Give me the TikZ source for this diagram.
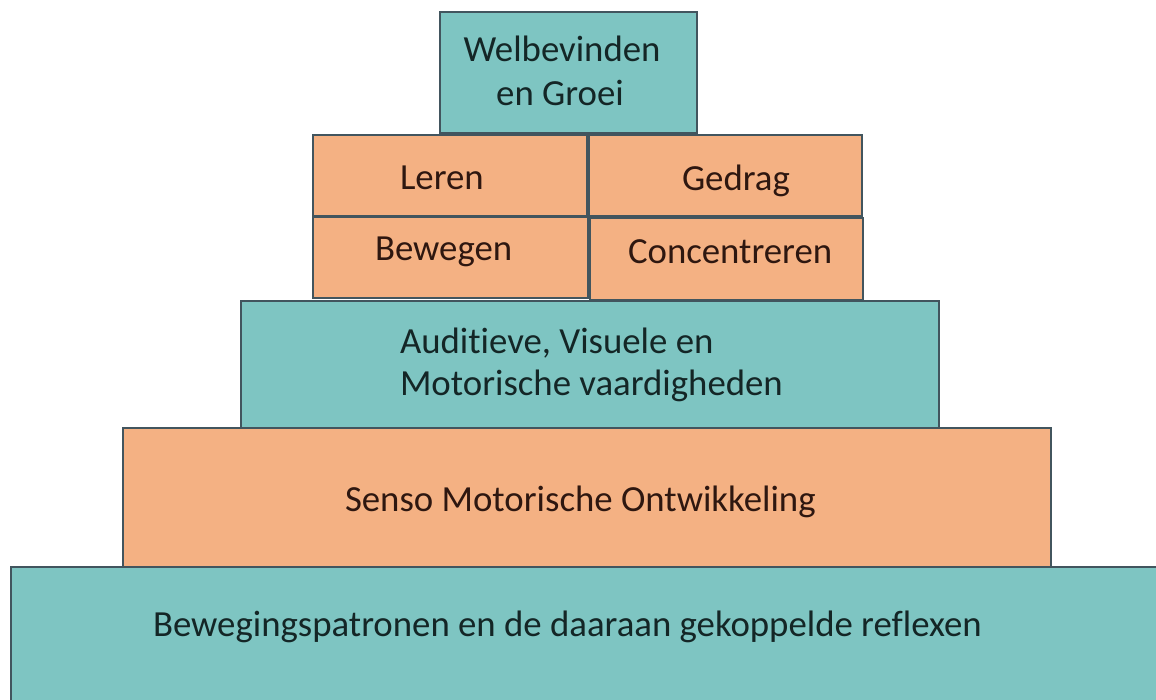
\documentclass[tikz,border=0pt]{standalone}
\usepackage{fontspec}
\setmainfont{Carlito}[Ligatures={NoCommon}]
\definecolor{tealfill}{HTML}{7EC5C2}
\definecolor{orangefill}{HTML}{F4B183}
\definecolor{edgecol}{HTML}{42555E}
\definecolor{tealtext}{HTML}{142626}
\definecolor{orangetext}{HTML}{2E1710}
\begin{document}
\begin{tikzpicture}[x=1pt,y=-1pt,
  blk/.style={draw=edgecol,line width=1.4pt,inner sep=0pt,outer sep=0pt},
  tealblk/.style={blk,fill=tealfill},
  orangeblk/.style={blk,fill=orangefill},
  lbl/.style={inner sep=0pt,outer sep=0pt,font=\fontsize{36.8}{44}\selectfont},
  tlbl/.style={lbl,text=tealtext},
  olbl/.style={lbl,text=orangetext}]
\useasboundingbox (0,0) rectangle (1156,700);
% blocks, bottom to top
\node[tealblk,minimum width=1159pt,minimum height=153pt] (base) at (590.5,643.5) {};
\node[orangeblk,minimum width=928pt,minimum height=139pt] (senso) at (587,497.5) {};
\node[tealblk,minimum width=698pt,minimum height=127pt] (aud) at (590,364.5) {};
\node[orangeblk,minimum width=274pt,minimum height=81pt] (leren) at (450,175.5) {};
\node[orangeblk,minimum width=273pt,minimum height=81pt] (gedrag) at (725.5,175.5) {};
\node[orangeblk,minimum width=275pt,minimum height=81pt] (bewegen) at (450.5,257.5) {};
\node[orangeblk,minimum width=273pt,minimum height=82pt] (conc) at (726.5,259) {};
\node[tealblk,minimum width=257pt,minimum height=121pt] (top) at (568.5,72.5) {};
% labels
\node[tlbl,anchor=base] (welb1) at (562,62) {Welbevinden};
\node[tlbl,anchor=base] (welb2) at (560,106) {en Groei};
\node[olbl,anchor=base west] (lerenT) at (400,190) {Leren};
\node[olbl,anchor=base west] (gedragT) at (682,191) {Gedrag};
\node[olbl,anchor=base west] (bewegenT) at (375,261) {Bewegen};
\node[olbl,anchor=base west] (concT) at (628,264) {Concentreren};
\node[tlbl,anchor=base west] (aud1) at (400,353) {Auditieve, Visuele en};
\node[tlbl,anchor=base west] (aud2) at (400,395) {Motorische vaardigheden};
\node[olbl,anchor=base west] (sensoT) at (345,511) {Senso Motorische Ontwikkeling};
\node[tlbl,anchor=base west] (baseT) at (153,636) {Bewegingspatronen en de daaraan gekoppelde reflexen};
\end{tikzpicture}
\end{document}
